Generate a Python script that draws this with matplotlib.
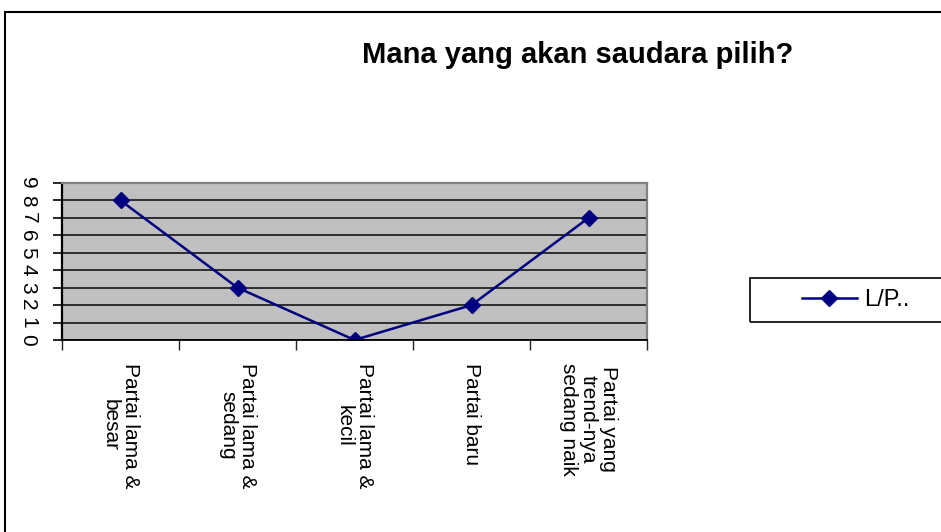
import matplotlib
matplotlib.use("Agg")
from matplotlib import pyplot as plt
from matplotlib.patches import Rectangle
from matplotlib.lines import Line2D

plt.rcParams['font.family'] = ['Liberation Sans', 'DejaVu Sans']

categories = ['Partai lama &\nbesar', 'Partai lama &\nsedang', 'Partai lama &\nkecil',
              'Partai baru', 'Partai yang\ntrend-nya\nsedang naik']
values = [8, 3, 0, 2, 7]
series_name = 'L/P..'
y_ticks = list(range(0, 10))

fig = plt.figure(figsize=(9.41, 5.32), dpi=100)
ax = fig.add_axes([62/941, 1-340/532, 585/941, 157/532])

ax.set_facecolor('#C0C0C0')
x = list(range(len(values)))
ax.plot(x, values, color='#000080', linewidth=1.8, marker='D', markersize=8,
        markerfacecolor='#000080', markeredgecolor='#000080', label=series_name)

ax.set_xlim(-0.5, len(values) - 0.5)
ax.set_ylim(0, 9)
ax.set_yticks(y_ticks)
ax.set_yticklabels([str(t) for t in y_ticks], rotation=-90, va='center', ha='center',
                   fontsize=15)
ax.tick_params(axis='y', length=6.5, width=1.2, color='black', pad=18, direction='out')
ax.grid(axis='y', color='#222222', linewidth=1.3)
ax.set_axisbelow(True)

# category labels sit between the boundary ticks
ax.set_xticks([i - 0.5 for i in range(len(values) + 1)])
ax.set_xticklabels([])
ax.tick_params(axis='x', length=7, width=1, color='#222222', direction='out')
for i, lab in enumerate(categories):
    ax.text(i, -1.3, lab, rotation=-90, ha='center', va='top', fontsize=15,
            multialignment='center', linespacing=1.05)

ax.spines['left'].set_color('black')
ax.spines['left'].set_linewidth(1.6)
ax.spines['bottom'].set_color('black')
ax.spines['bottom'].set_linewidth(1.3)
for s in ['top', 'right']:
    ax.spines[s].set_color('#808080')
    ax.spines[s].set_linewidth(1.6)

fig.text(578/941, 1-55/532, 'Mana yang akan saudara pilih?', ha='center', va='center',
         fontsize=21, fontweight='bold')

# outer chart border
fig.patches.append(Rectangle((5/941, -0.05), 1.0, 1.05 - 12/532, transform=fig.transFigure,
                             fill=False, edgecolor='black', linewidth=1.5))

# legend box
fig.patches.append(Rectangle((750/941, 1-322/532), 0.3, 44/532, transform=fig.transFigure,
                             fill=False, edgecolor='black', linewidth=1.2))
handle = Line2D([], [], color='#000080', linewidth=1.8, marker='D', markersize=8,
                markerfacecolor='#000080')
fig.legend([handle], [series_name], loc='center left', bbox_to_anchor=(781/941, 1-300/532),
           frameon=False, fontsize=17, handlelength=2.3, handletextpad=0.3)

plt.savefig('out.png', dpi=100)
plt.close()
